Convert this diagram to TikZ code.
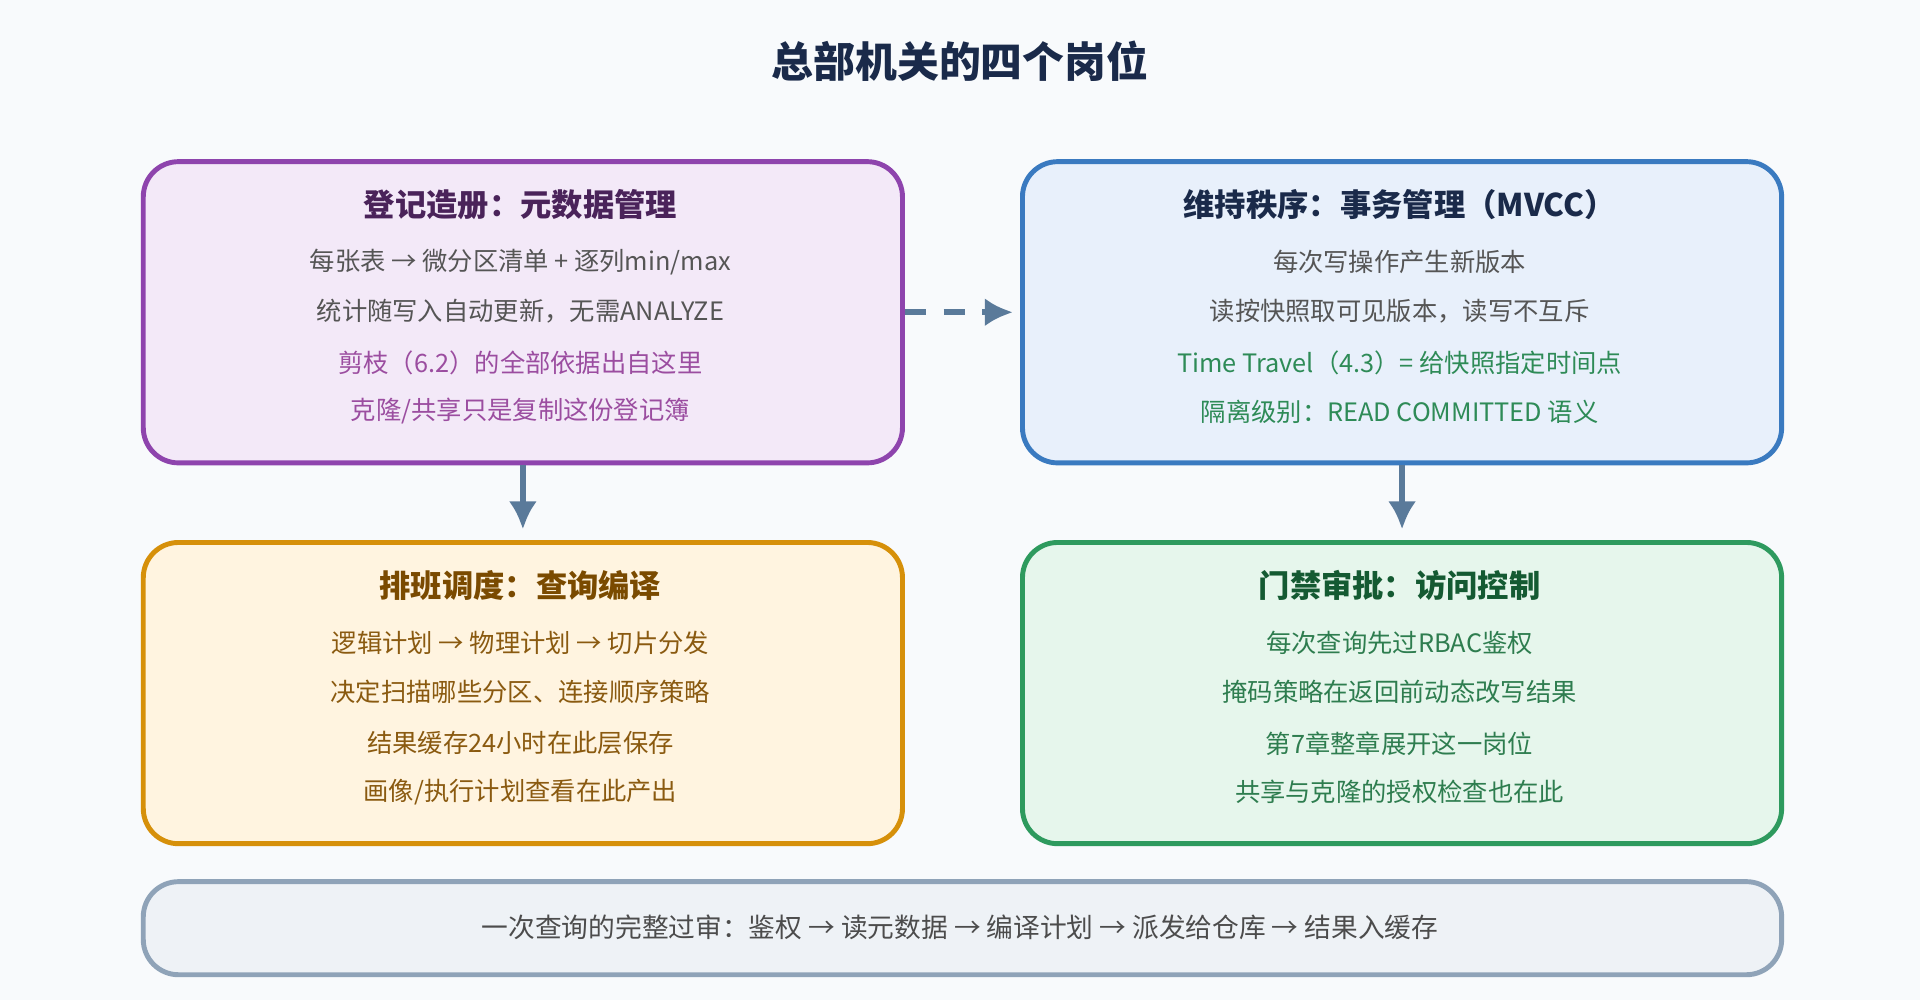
\documentclass[tikz,border=0pt]{standalone}
\usepackage{fontspec}
\setmainfont{Noto Sans CJK SC}
\usetikzlibrary{arrows.meta}
\usetikzlibrary{positioning}
\definecolor{bgpage}{RGB}{248,250,252}
\definecolor{metaborder}{RGB}{142,68,173}
\definecolor{metafill}{RGB}{243,233,248}
\definecolor{metahead}{RGB}{74,35,90}
\definecolor{metanote}{RGB}{155,77,160}
\definecolor{txnborder}{RGB}{58,122,192}
\definecolor{txnfill}{RGB}{232,240,251}
\definecolor{txnhead}{RGB}{26,42,74}
\definecolor{txnnote}{RGB}{46,139,87}
\definecolor{planborder}{RGB}{214,144,10}
\definecolor{planfill}{RGB}{255,244,224}
\definecolor{planhead}{RGB}{122,74,0}
\definecolor{plantext}{RGB}{138,90,16}
\definecolor{aclborder}{RGB}{46,154,94}
\definecolor{aclfill}{RGB}{230,246,236}
\definecolor{aclhead}{RGB}{20,90,50}
\definecolor{acltext}{RGB}{46,125,79}
\definecolor{flowborder}{RGB}{143,163,184}
\definecolor{flowfill}{RGB}{238,242,246}
\definecolor{bodytext}{RGB}{85,85,85}
\definecolor{linkcol}{RGB}{90,122,154}

\begin{document}
\begin{tikzpicture}[x=0.012245cm, y=-0.012245cm,
    post/.style={rounded corners=10pt, line width=1.4pt, anchor=north west, inner sep=0pt},
    head/.style={font=\fontsize{8.9}{10}\selectfont\bfseries},
    line/.style={font=\fontsize{7.2}{8}\selectfont, text=bodytext},
    link/.style={-{Latex[length=8pt,width=8pt]}, line width=1.6pt, draw=linkcol}]
    \fill[bgpage] (0,0) rectangle (1568,817);
    \node[font=\fontsize{11.9}{13}\selectfont\bfseries, text=txnhead] (title) at (784,50) {总部机关的四个岗位};

    % four posts
    \node[post, draw=metaborder, fill=metafill, minimum width=620*0.012245cm, minimum height=246*0.012245cm] (meta) at (115,130) {};
    \node[post, draw=txnborder,  fill=txnfill,  minimum width=620*0.012245cm, minimum height=246*0.012245cm] (txn)  at (833,130) {};
    \node[post, draw=planborder, fill=planfill, minimum width=620*0.012245cm, minimum height=246*0.012245cm] (plan) at (115,441) {};
    \node[post, draw=aclborder,  fill=aclfill,  minimum width=620*0.012245cm, minimum height=246*0.012245cm] (acl)  at (833,441) {};
    \node[post, draw=flowborder, fill=flowfill, minimum width=1338*0.012245cm, minimum height=76*0.012245cm] (flow) at (115,718) {};

    % metadata
    \node[head, text=metahead] at (425,167) {登记造册：元数据管理};
    \node[line] at (425,214) {每张表 → 微分区清单 + 逐列min/max};
    \node[line] at (425,254) {统计随写入自动更新，无需ANALYZE};
    \node[line, text=metanote] at (425,296) {剪枝（6.2）的全部依据出自这里};
    \node[line, text=metanote] at (425,336) {克隆/共享只是复制这份登记簿};

    % transactions
    \node[head, text=txnhead] at (1143,167) {维持秩序：事务管理（MVCC）};
    \node[line] at (1143,214) {每次写操作产生新版本};
    \node[line] at (1143,254) {读按快照取可见版本，读写不互斥};
    \node[line, text=txnnote] at (1143,296) {Time Travel（4.3）= 给快照指定时间点};
    \node[line, text=txnnote] at (1143,336) {隔离级别：READ COMMITTED 语义};

    % planning
    \node[head, text=planhead] at (425,478) {排班调度：查询编译};
    \node[line, text=plantext] at (425,525) {逻辑计划 → 物理计划 → 切片分发};
    \node[line, text=plantext] at (425,565) {决定扫描哪些分区、连接顺序策略};
    \node[line, text=plantext] at (425,607) {结果缓存24小时在此层保存};
    \node[line, text=plantext] at (425,647) {画像/执行计划查看在此产出};

    % access control
    \node[head, text=aclhead] at (1143,478) {门禁审批：访问控制};
    \node[line, text=acltext] at (1143,525) {每次查询先过RBAC鉴权};
    \node[line, text=acltext] at (1143,565) {掩码策略在返回前动态改写结果};
    \node[line, text=acltext] at (1143,607) {第7章整章展开这一岗位};
    \node[line, text=acltext] at (1143,647) {共享与克隆的授权检查也在此};

    \node[font=\fontsize{7.6}{9}\selectfont, text=bodytext!90!black] at (784,757) {一次查询的完整过审：鉴权 → 读元数据 → 编译计划 → 派发给仓库 → 结果入缓存};

    % links
    \draw[link, dashed, dash pattern=on 6pt off 5pt] (meta.east) -- ([xshift=-2pt]txn.west);
    \draw[link] (meta.south) -- ([yshift=3pt]plan.north);
    \draw[link] (txn.south) -- ([yshift=3pt]acl.north);
\end{tikzpicture}
\end{document}
